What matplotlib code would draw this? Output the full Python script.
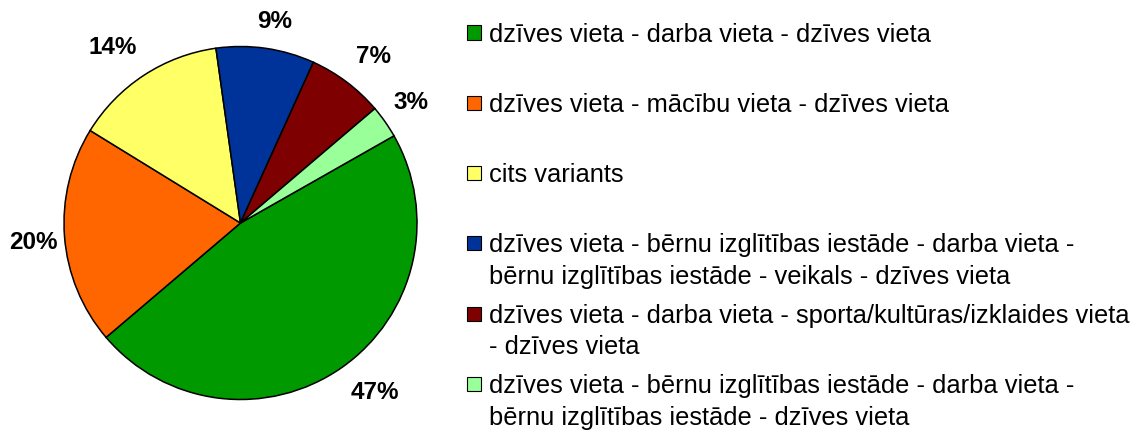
import matplotlib.pyplot as plt
from matplotlib.patches import Rectangle

plt.rcParams['font.family'] = ['Liberation Sans', 'DejaVu Sans']

# Data
labels = [
    'dzīves vieta - darba vieta - dzīves vieta',
    'dzīves vieta - mācību vieta - dzīves vieta',
    'cits variants',
    'dzīves vieta - bērnu izglītības iestāde - darba vieta -\nbērnu izglītības iestāde - veikals - dzīves vieta',
    'dzīves vieta - darba vieta - sporta/kultūras/izklaides vieta\n- dzīves vieta',
    'dzīves vieta - bērnu izglītības iestāde - darba vieta -\nbērnu izglītības iestāde - dzīves vieta',
]
shares = [47, 20, 14, 9, 7, 3]
colors = ['#009900', '#FF6600', '#FFFF66', '#003399', '#7F0000', '#99FF99']

# where the percent labels sit (pie radius = 1), as in the original layout
label_pos = [(0.759, -0.963), (-1.176, -0.108), (-0.722, 0.992),
             (0.195, 1.144), (0.751, 0.941), (0.966, 0.680)]

W, H = 1138, 430
fig = plt.figure(figsize=(W / 100, H / 100), dpi=100)

# pie axes: centre (240.5, 223) px, radius 176.5 px
cx, cy, r = 240.5, 223, 176.5
ax = fig.add_axes([(cx - r) / W, (H - cy - r) / H, 2 * r / W, 2 * r / H])
wedges, texts, autotexts = ax.pie(
    shares, colors=colors, startangle=29.6, counterclock=False,
    autopct='%1.0f%%', pctdistance=1.2,
    wedgeprops=dict(edgecolor='black', linewidth=1.1),
    textprops=dict(fontsize=17.5, fontweight='bold', color='black'),
)
for t, pos in zip(autotexts, label_pos):
    t.set_position(pos)
    t.set_ha('center')
    t.set_va('center')
ax.set_xlim(-1, 1)
ax.set_ylim(-1, 1)
ax.set_aspect('equal')
ax.axis('off')

# legend drawn by hand so the box sits at the first line of wrapped entries
for i, (lab, col) in enumerate(zip(labels, colors)):
    base = 41.5 + 70.3 * i
    fig.patches.append(Rectangle((467 / W, 1 - (base - 2) / H), 14 / W, 14 / H,
                                 transform=fig.transFigure, facecolor=col,
                                 edgecolor='black', linewidth=0.8))
    for k, line in enumerate(lab.split('\n')):
        fig.text(489 / W, 1 - (base + 31.5 * k) / H, line, fontsize=18.4,
                 va='baseline', ha='left')

fig.savefig('out.png', dpi=100)
